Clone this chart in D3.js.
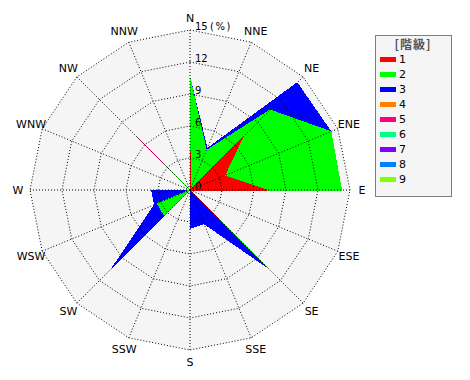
<!DOCTYPE html>
<html>
<head>
<meta charset="utf-8">
<script src="https://cdn.jsdelivr.net/npm/d3@7"></script>
<style>
  body { margin: 0; background: #fff; }
  text { font-family: "DejaVu Sans", sans-serif; }
</style>
</head>
<body>
<div id="rose"></div>
<script>
// 16 compass directions, clockwise from north
const directions = ['N', 'NNE', 'NE', 'ENE', 'E', 'ESE', 'SE', 'SSE',
                    'S', 'SSW', 'SW', 'WSW', 'W', 'WNW', 'NW', 'NNW'];

// frequency (%) of each class per direction (not cumulative)
const class1 = [3.7, 0, 7.0, 3.5, 7.2, 0, 3.8, 0, 0, 0, 0, 0, 0, 0, 0, 0];
const class2 = [6.8, 4.0, 3.6, 10.8, 7.0, 0, 6.5, 0, 0, 0, 3.4, 3.3, 0, 0, 3.3, 0];
const class3 = [0, 0.2, 3.6, 0, 0, 0, 0, 3.4, 3.6, 0, 6.9, 0.3, 3.6, 0, 0, 0];
const class4 = [0, 0, 0, 0, 0, 0, 0, 0, 0, 0, 0, 0, 0, 0, 0, 0];
const class5 = [0, 0, 0, 0, 0, 0, 0, 0, 0, 0, 0, 0, 0, 0, 3.7, 0];
const class6 = [0, 0, 0, 0, 0, 0, 0, 0, 0, 0, 0, 0, 0, 0, 0, 0];
const class7 = [0, 0, 0, 0, 0, 0, 0, 0, 0, 0, 0, 0, 0, 0, 0, 0];
const class8 = [0, 0, 0, 0, 0, 0, 0, 0, 0, 0, 0, 0, 0, 0, 0, 0];
const class9 = [0, 0, 0, 0, 0, 0, 0, 0, 0, 0, 0, 0, 0, 0, 0, 0];

const classNames = ['1', '2', '3', '4', '5', '6', '7', '8', '9'];
const classColors = ['#ff0000', '#00ff00', '#0000ff', '#ff8000', '#ff0080',
                     '#00ff80', '#8000ff', '#0080ff', '#80ff00'];

const ringTicks = [3, 6, 9, 12, 15];

const w = 470, h = 380;
const cx = 190, cy = 190;  // rose center
const R = 160;             // radius of 15%

const svg = d3.select('#rose')
  .append('svg')
  .attr('width', w)
  .attr('height', h);

const r = d3.scaleLinear().domain([0, 15]).range([0, R]);
const angle = d3.scalePoint().domain(directions).range([0, 2 * Math.PI * 15 / 16]);

// polar -> screen
const px = (d, v) => cx + r(v) * Math.sin(angle(d));
const py = (d, v) => cy - r(v) * Math.cos(angle(d));

const ring = v => directions.map(d => [px(d, v), py(d, v)]);

const g = {
  grid: svg.append('g').attr('id', 'grid'),
  marks: svg.append('g').attr('id', 'marks'),
  labels: svg.append('g').attr('id', 'labels'),
  legend: svg.append('g').attr('id', 'legend')
};

// gray background of the rose
g.grid.append('polygon')
  .attr('points', ring(15).join(' '))
  .style('fill', '#f5f5f5');

// stacked classes, cumulative
const series = [class1, class2, class3, class4, class5, class6, class7, class8, class9];
const stacked = [];
series.forEach((s, i) => {
  stacked.push(s.map((v, j) => v + (i > 0 ? stacked[i - 1][j] : 0)));
});

// draw outer classes first so inner ones sit on top
const order = d3.range(series.length).reverse()
  .filter(i => d3.max(series[i]) > 0);

g.marks.selectAll('polygon.cls')
  .data(order)
  .enter()
  .append('polygon')
  .attr('class', 'cls')
  .attr('points', i => directions.map((d, j) => [px(d, stacked[i][j]), py(d, stacked[i][j])]).join(' '))
  .style('fill', i => classColors[i])
  .style('stroke', i => classColors[i])
  .style('stroke-width', 1)
  .style('shape-rendering', 'crispEdges');

// rings and spokes (dotted), on top of the marks
const gridLines = svg.append('g').attr('id', 'grid-lines');

gridLines.selectAll('polygon.ring')
  .data(ringTicks)
  .enter()
  .append('polygon')
  .attr('class', 'ring')
  .attr('points', v => ring(v).join(' '))
  .style('fill', 'none')
  .style('stroke', '#000')
  .style('stroke-dasharray', '1,2');

gridLines.selectAll('line.spoke')
  .data(directions)
  .enter()
  .append('line')
  .attr('class', 'spoke')
  .attr('x1', cx)
  .attr('y1', cy)
  .attr('x2', d => px(d, 15))
  .attr('y2', d => py(d, 15))
  .style('stroke', '#000')
  .style('stroke-dasharray', '1,2');

// ring labels along the north spoke
g.labels.selectAll('text.tick')
  .data([0].concat(ringTicks))
  .enter()
  .append('text')
  .attr('class', 'tick')
  .attr('x', cx + 5)
  .attr('y', v => cy - r(v))
  .style('font-size', '10px')
  .text(v => v);

g.labels.append('text')
  .attr('x', cx + 20)
  .attr('y', cy - r(15))
  .style('font-size', '10px')
  .style('letter-spacing', '1.5px')
  .text('(%)');

// direction labels
g.labels.selectAll('text.dir')
  .data(directions)
  .enter()
  .append('text')
  .attr('class', 'dir')
  .attr('x', d => cx + 172 * Math.sin(angle(d)))
  .attr('y', d => cy - 172 * Math.cos(angle(d)))
  .attr('text-anchor', 'middle')
  .attr('dy', '0.35em')
  .style('font-size', '11px')
  .text(d => d);

// legend
const lx = 375, ly = 35;
g.legend.append('rect')
  .attr('x', lx + 0.5)
  .attr('y', ly + 0.5)
  .attr('width', 76)
  .attr('height', 161)
  .style('fill', '#f5f5f5')
  .style('stroke', '#000')
  .style('stroke-dasharray', '1,1');

g.legend.append('text')
  .attr('x', lx + 38)
  .attr('y', ly + 14)
  .attr('text-anchor', 'middle')
  .style('font-family', '"Noto Sans CJK JP", sans-serif')
  .style('font-size', '12px')
  .style('font-weight', 'bold')
  .style('letter-spacing', '1px')
  .style('fill', '#555')
  .text('[階級]');

const item = g.legend.selectAll('g.item')
  .data(classNames)
  .enter()
  .append('g')
  .attr('class', 'item')
  .attr('transform', (c, i) => `translate(${lx + 5}, ${ly + 24 + i * 15})`);

item.append('rect')
  .attr('x', 0)
  .attr('y', -2)
  .attr('width', 16)
  .attr('height', 5)
  .style('fill', (c, i) => classColors[i]);

item.append('text')
  .attr('x', 19)
  .attr('y', 0)
  .attr('dy', '0.35em')
  .style('font-size', '11px')
  .text(c => c);
</script>
</body>
</html>
